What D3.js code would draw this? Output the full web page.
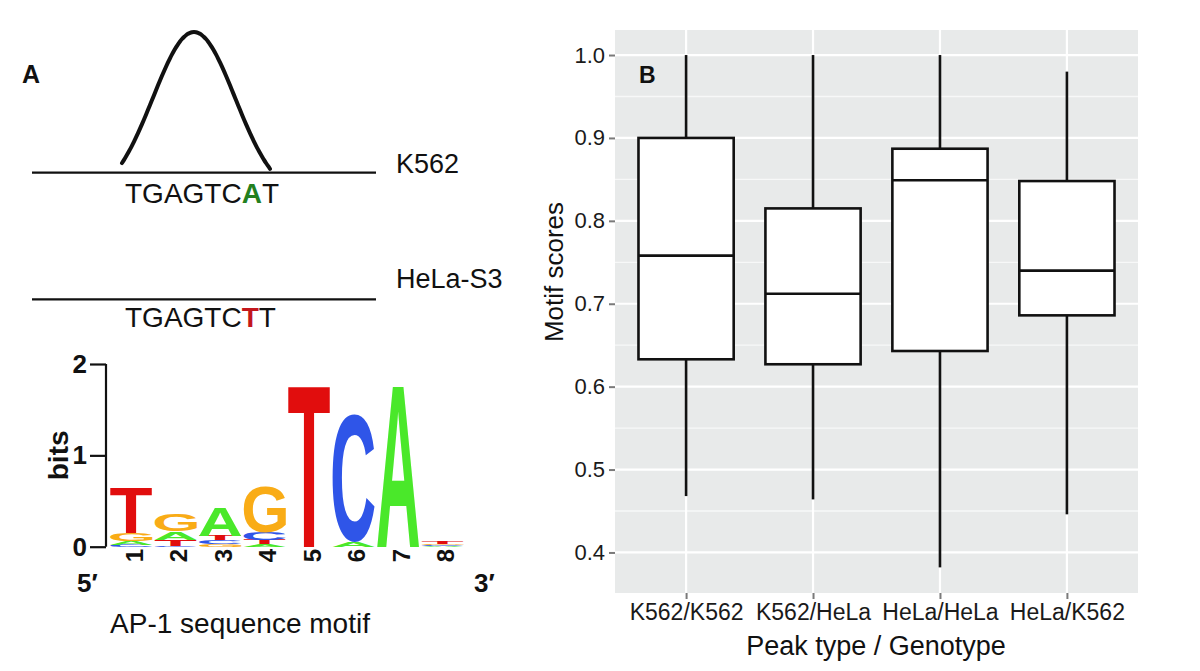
<!DOCTYPE html>
<html><head><meta charset="utf-8">
<script src="https://cdn.jsdelivr.net/npm/d3@7"></script>
<style>body{margin:0;background:#fff} svg{display:block}</style>
</head><body>
<script>
// ---------- Panel B data ----------
const categories = ["K562/K562", "K562/HeLa", "HeLa/HeLa", "HeLa/K562"];
const whiskerLow  = [0.468, 0.464, 0.382, 0.446];
const q1          = [0.633, 0.627, 0.643, 0.686];
const median      = [0.758, 0.712, 0.849, 0.740];
const q3          = [0.900, 0.815, 0.887, 0.848];
const whiskerHigh = [1.000, 1.000, 1.000, 0.980];
const yTicks = [0.4, 0.5, 0.6, 0.7, 0.8, 0.9, 1.0];
const yMinor = [0.45, 0.55, 0.65, 0.75, 0.85, 0.95];

// ---------- Panel A logo data (bits) ----------
const logoPositions = [1, 2, 3, 4, 5, 6, 7, 8];
const bitsA = [0.040, 0.090, 0.310, 0.025, 0.000, 0.050, 1.780, 0.010];
const bitsC = [0.020, 0.010, 0.040, 0.080, 0.000, 1.400, 0.000, 0.010];
const bitsG = [0.090, 0.180, 0.030, 0.510, 0.000, 0.000, 0.000, 0.010];
const bitsT = [0.500, 0.065, 0.050, 0.050, 1.780, 0.000, 0.000, 0.030];
const bitsTicks = [0, 1, 2];
const seqK562 = ["T","G","A","G","T","C","A","T"];
const seqHeLa = ["T","G","A","G","T","C","T","T"];
const variantIndex = 6;

const FONT = "'Liberation Sans', Arial, Helvetica, sans-serif";
const svg = d3.select("body").append("svg").attr("width", 1200).attr("height", 671);
svg.append("rect").attr("width", 1200).attr("height", 671).attr("fill", "#fff");

// =================== Panel B ===================
const x = d3.scalePoint().domain(categories).range([615, 1138]).padding(0.56);
const y = d3.scaleLinear().domain([0.3511, 1.0302]).range([593, 30]);
const step = x.step();
const boxW = step * 0.75;
const gB = svg.append("g");
gB.append("rect").attr("x", 615).attr("y", 30).attr("width", 523).attr("height", 563).attr("fill", "#e8eaea");
gB.selectAll("line.minor").data(yMinor).join("line")
  .attr("x1", 615).attr("x2", 1138).attr("y1", d => y(d)).attr("y2", d => y(d))
  .attr("stroke", "#f7f8f8").attr("stroke-width", 1.3);
gB.selectAll("line.major").data(yTicks).join("line")
  .attr("x1", 615).attr("x2", 1138).attr("y1", d => y(d)).attr("y2", d => y(d))
  .attr("stroke", "#fff").attr("stroke-width", 2.2);
gB.selectAll("line.vgrid").data(categories).join("line")
  .attr("x1", d => x(d)).attr("x2", d => x(d)).attr("y1", 30).attr("y2", 593)
  .attr("stroke", "#fff").attr("stroke-width", 2.2);

const boxes = gB.selectAll("g.box").data(categories).join("g");
boxes.append("line").attr("x1", d => x(d)).attr("x2", d => x(d))
  .attr("y1", (d, i) => y(whiskerHigh[i])).attr("y2", (d, i) => y(q3[i]))
  .attr("stroke", "#111").attr("stroke-width", 2.6);
boxes.append("line").attr("x1", d => x(d)).attr("x2", d => x(d))
  .attr("y1", (d, i) => y(q1[i])).attr("y2", (d, i) => y(whiskerLow[i]))
  .attr("stroke", "#111").attr("stroke-width", 2.6);
boxes.append("rect").attr("x", d => x(d) - boxW / 2).attr("width", boxW)
  .attr("y", (d, i) => y(q3[i])).attr("height", (d, i) => y(q1[i]) - y(q3[i]))
  .attr("fill", "#fff").attr("stroke", "#111").attr("stroke-width", 2.6);
boxes.append("line").attr("x1", d => x(d) - boxW / 2).attr("x2", d => x(d) + boxW / 2)
  .attr("y1", (d, i) => y(median[i])).attr("y2", (d, i) => y(median[i]))
  .attr("stroke", "#111").attr("stroke-width", 2.6);

const yAxis = gB.append("g").attr("transform", "translate(615,0)")
  .call(d3.axisLeft(y).tickValues(yTicks).tickSize(6).tickPadding(4).tickFormat(d3.format(".1f")));
const xAxis = gB.append("g").attr("transform", "translate(0,593)")
  .call(d3.axisBottom(x).tickSize(6).tickPadding(5));
[yAxis, xAxis].forEach(a => {
  a.select(".domain").remove();
  a.selectAll(".tick line").attr("stroke", "#7a7a7a").attr("stroke-width", 2);
  a.selectAll(".tick text").attr("fill", "#1a1a1a").style("font-family", FONT);
});
yAxis.selectAll(".tick text").style("font-size", "22px");
xAxis.selectAll(".tick text").style("font-size", "23px");

gB.append("text").attr("x", 876).attr("y", 655).attr("text-anchor", "middle")
  .style("font-family", FONT).style("font-size", "27px").attr("fill", "#111").text("Peak type / Genotype");
gB.append("text").attr("transform", "translate(563,272) rotate(-90)").attr("text-anchor", "middle")
  .style("font-family", FONT).style("font-size", "26px").attr("fill", "#111").text("Motif scores");
gB.append("text").attr("x", 639).attr("y", 83)
  .style("font-family", FONT).style("font-size", "23px").style("font-weight", "bold").attr("fill", "#111").text("B");

// =================== Panel A ===================
const gA = svg.append("g");
gA.append("text").attr("x", 22).attr("y", 83)
  .style("font-family", FONT).style("font-size", "25px").style("font-weight", "bold").attr("fill", "#111").text("A");

// schematic peak (illustration)
const peakX = d3.range(122, 270.5, 2);
const peakLine = d3.line().x(d => d).y(d => 198.7 - 166.7 * Math.exp(-((d - 194) ** 2) / (2 * 41 * 41))).curve(d3.curveBasis);
gA.append("path").attr("d", peakLine(peakX)).attr("fill", "none").attr("stroke", "#111")
  .attr("stroke-width", 4).attr("stroke-linecap", "round");

const tracks = [
  {label: "K562", lineY: 172.7, labelY: 173, seqY: 203, seq: seqK562, color: "#23801f"},
  {label: "HeLa-S3", lineY: 299.3, labelY: 288, seqY: 327, seq: seqHeLa, color: "#c3161c"}
];
tracks.forEach(t => {
  gA.append("line").attr("x1", 32).attr("x2", 376).attr("y1", t.lineY).attr("y2", t.lineY)
    .attr("stroke", "#111").attr("stroke-width", 2.3);
  gA.append("text").attr("x", 396).attr("y", t.labelY)
    .style("font-family", FONT).style("font-size", "27px").attr("fill", "#111").text(t.label);
  const st = gA.append("text").attr("x", 125).attr("y", t.seqY)
    .style("font-family", FONT).style("font-size", "28px").attr("fill", "#111");
  t.seq.forEach((ch, i) => {
    const ts = st.append("tspan").text(ch);
    if (i === variantIndex) ts.attr("fill", t.color).style("font-weight", "bold");
  });
});

// sequence logo
const lx = d3.scaleBand().domain(logoPositions).range([109, 465]).paddingInner(0.05).paddingOuter(0.025);
const ly = d3.scaleLinear().domain([0, 2]).range([546.7, 364]);
const letterColors = {A: "#4ae82a", C: "#2f55e8", G: "#f9ac16", T: "#e10d0d"};
const canvas = document.createElement("canvas");
const ctx = canvas.getContext("2d");
ctx.font = "bold 100px 'Liberation Sans'";
const ink = {};
["A", "C", "G", "T"].forEach(ch => {
  const m = ctx.measureText(ch);
  ink[ch] = {L: m.actualBoundingBoxLeft, R: m.actualBoundingBoxRight, A: m.actualBoundingBoxAscent, D: m.actualBoundingBoxDescent};
});
const gLogo = gA.append("g");
logoPositions.forEach((p, i) => {
  const stack = [["A", bitsA[i]], ["C", bitsC[i]], ["G", bitsG[i]], ["T", bitsT[i]]]
    .filter(d => d[1] > 0).sort((a, b) => a[1] - b[1]);
  let base = 0;
  stack.forEach(([ch, h]) => {
    const yTop = ly(base + h), yBot = ly(base);
    const w = lx.bandwidth(), hh = yBot - yTop;
    const b = ink[ch];
    const sx = w / (b.L + b.R), sy = hh / (b.A + b.D);
    gLogo.append("text")
      .attr("transform", `translate(${lx(p)},${yTop}) scale(${sx},${sy}) translate(${b.L},${b.A})`)
      .style("font-family", "'Liberation Sans'").style("font-weight", "bold").style("font-size", "100px")
      .attr("fill", letterColors[ch]).text(ch);
    base += h;
  });
  gLogo.append("text")
    .attr("transform", `translate(${lx(p) + lx.bandwidth() / 2 + 3},549) rotate(-90)`)
    .attr("text-anchor", "end").attr("dy", "0.36em")
    .style("font-family", FONT).style("font-weight", "bold").style("font-size", "24px").attr("fill", "#111").text(p);
});
const lAxis = gA.append("g").attr("transform", "translate(106,0)")
  .call(d3.axisLeft(ly).tickValues(bitsTicks).tickSize(16).tickPadding(3).tickFormat(d3.format("d")));
lAxis.select(".domain").attr("stroke", "#111").attr("stroke-width", 2.2).attr("d", `M0,${ly(2)}V${ly(0)}`);
lAxis.selectAll(".tick line").attr("stroke", "#111").attr("stroke-width", 2.2);
lAxis.selectAll(".tick text").attr("fill", "#111").style("font-family", FONT)
  .style("font-size", "26px").style("font-weight", "bold");
gA.append("text").attr("transform", `translate(68,${ly(1)}) rotate(-90)`).attr("text-anchor", "middle")
  .style("font-family", FONT).style("font-size", "28px").style("font-weight", "bold").attr("fill", "#111").text("bits");
gA.append("text").attr("x", 77).attr("y", 592)
  .style("font-family", FONT).style("font-size", "26px").style("font-weight", "bold").attr("fill", "#111").text("5\u2032");
gA.append("text").attr("x", 474).attr("y", 592)
  .style("font-family", FONT).style("font-size", "26px").style("font-weight", "bold").attr("fill", "#111").text("3\u2032");
gA.append("text").attr("x", 240).attr("y", 633).attr("text-anchor", "middle")
  .style("font-family", FONT).style("font-size", "28px").attr("fill", "#111").text("AP-1 sequence motif");
</script>
</body></html>
